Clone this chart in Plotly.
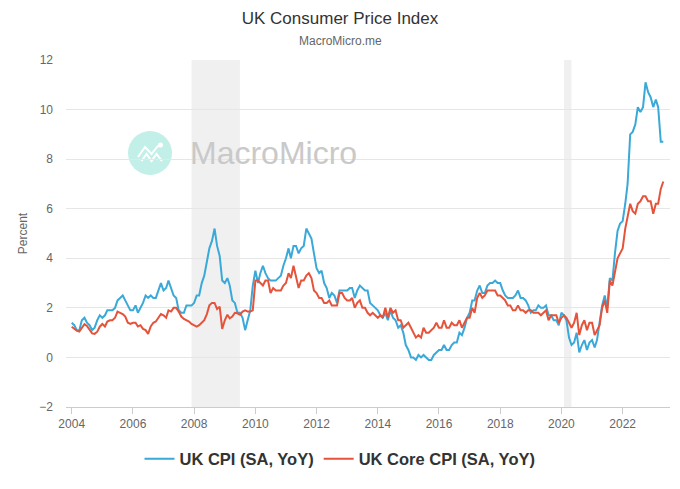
import plotly.graph_objects as go
import pandas as pd

# ---------------- data (monthly, Jan 2004 - May 2023) ----------------
start_month = "2004-01-01"

cpi_2004_2008 = [
    1.4, 1.3, 1.1, 1.1, 1.5, 1.6, 1.4, 1.3, 1.1, 1.2, 1.5, 1.7,
    1.6, 1.7, 1.9, 1.9, 1.9, 2.0, 2.3, 2.4, 2.5, 2.3, 2.1, 1.9,
    1.9, 2.1, 1.8, 2.0, 2.2, 2.5, 2.4, 2.5, 2.4, 2.4, 2.7, 3.0,
    2.7, 2.8, 3.1, 2.8, 2.5, 2.4, 1.9, 1.8, 1.8, 2.1, 2.1, 2.1,
    2.2, 2.5, 2.5, 3.0, 3.3, 3.8, 4.4, 4.7, 5.2, 4.5, 4.1, 3.1,
]
cpi_2009_2013 = [
    3.0, 3.2, 2.9, 2.3, 2.2, 1.8, 1.8, 1.6, 1.1, 1.5, 1.9, 2.9,
    3.5, 3.0, 3.4, 3.7, 3.4, 3.2, 3.1, 3.1, 3.1, 3.2, 3.3, 3.7,
    4.0, 4.4, 4.0, 4.5, 4.5, 4.2, 4.4, 4.5, 5.2, 5.0, 4.8, 4.2,
    3.6, 3.4, 3.5, 3.0, 2.8, 2.4, 2.6, 2.5, 2.2, 2.7, 2.7, 2.7,
    2.7, 2.8, 2.8, 2.4, 2.7, 2.9, 2.8, 2.7, 2.7, 2.2, 2.1, 2.0,
]
cpi_2014_2018 = [
    1.9, 1.7, 1.6, 1.8, 1.5, 1.9, 1.6, 1.5, 1.2, 1.3, 1.0, 0.5,
    0.3, 0.0, 0.0, -0.1, 0.1, 0.0, 0.1, 0.0, -0.1, -0.1, 0.1, 0.2,
    0.3, 0.3, 0.5, 0.3, 0.3, 0.5, 0.6, 0.6, 1.0, 0.9, 1.2, 1.6,
    1.8, 2.3, 2.3, 2.7, 2.9, 2.6, 2.6, 2.9, 3.0, 3.0, 3.1, 3.0,
    3.0, 2.7, 2.5, 2.4, 2.4, 2.4, 2.5, 2.7, 2.4, 2.4, 2.3, 2.1,
]
cpi_2019_2023 = [
    1.8, 1.9, 1.9, 2.1, 2.0, 2.0, 2.1, 1.7, 1.7, 1.5, 1.5, 1.3,
    1.8, 1.7, 1.5, 0.8, 0.5, 0.6, 1.0, 0.2, 0.5, 0.7, 0.3, 0.6,
    0.7, 0.4, 0.7, 1.5, 2.1, 2.5, 2.0, 3.2, 3.1, 4.2, 5.1, 5.4,
    5.5, 6.2, 7.0, 9.0, 9.1, 9.4, 10.1, 9.9, 10.1, 11.1, 10.7, 10.5,
    10.1, 10.4, 10.1, 8.7, 8.7,
]

core_2004_2008 = [
    1.24, 1.16, 1.08, 1.04, 1.17, 1.34, 1.27, 1.13, 0.97, 0.95, 1.04, 1.24,
    1.35, 1.25, 1.45, 1.5, 1.5, 1.6, 1.85, 1.8, 1.75, 1.65, 1.4, 1.35,
    1.4, 1.4, 1.25, 1.3, 1.15, 1.1, 0.95, 1.25, 1.4, 1.45, 1.6, 1.75,
    1.7, 1.6, 1.9, 1.85, 2.0, 2.0, 1.85, 1.65, 1.55, 1.5, 1.45, 1.35,
    1.3, 1.24, 1.3, 1.4, 1.5, 1.75, 2.1, 2.2, 2.2, 1.95, 2.05, 1.15,
]
core_2009_2013 = [
    1.5, 1.72, 1.58, 1.65, 1.8, 1.78, 1.72, 1.85, 1.9, 1.85, 1.85, 1.9,
    3.1, 3.1, 3.0, 2.9, 3.1, 3.1, 2.6, 2.8, 2.7, 2.7, 2.7, 2.9,
    3.0, 3.4, 3.2, 3.7, 3.3, 2.8, 3.1, 3.1, 3.3, 3.4, 3.2, 2.7,
    2.6, 2.4, 2.4, 2.2, 2.2, 2.3, 2.1, 2.1, 2.1, 2.6, 2.6, 2.4,
    2.3, 2.3, 2.4, 2.0, 2.2, 2.3, 2.0, 2.0, 1.8, 1.7, 1.8, 1.7,
]
core_2014_2018 = [
    1.6, 1.7, 1.6, 2.0, 1.6, 2.0, 1.8, 1.9, 1.5, 1.5, 1.2, 1.3,
    1.4, 1.2, 1.0, 0.8, 0.9, 0.8, 1.2, 1.0, 1.0, 1.1, 1.2, 1.4,
    1.2, 1.2, 1.5, 1.2, 1.2, 1.4, 1.3, 1.3, 1.5, 1.2, 1.4, 1.6,
    1.6, 2.0, 1.8, 2.4, 2.6, 2.4, 2.5, 2.7, 2.7, 2.7, 2.7, 2.5,
    2.5, 2.4, 2.3, 2.1, 2.1, 1.9, 1.9, 2.1, 1.9, 1.9, 1.8, 1.9,
]
core_2019_2023 = [
    1.9, 1.8, 1.8, 1.8, 1.7, 1.8, 1.9, 1.5, 1.7, 1.7, 1.7, 1.4,
    1.6, 1.7, 1.6, 1.4, 1.2, 1.4, 1.8, 0.9, 1.3, 1.5, 1.1, 1.4,
    1.4, 0.9, 1.1, 1.3, 2.0, 2.3, 1.8, 3.1, 2.9, 3.4, 4.0, 4.2,
    4.4, 5.2, 5.7, 6.2, 5.9, 5.8, 6.2, 6.3, 6.5, 6.5, 6.3, 6.3,
    5.8, 6.2, 6.2, 6.8, 7.1,
]

cpi = cpi_2004_2008 + cpi_2009_2013 + cpi_2014_2018 + cpi_2019_2023
core = core_2004_2008 + core_2009_2013 + core_2014_2018 + core_2019_2023
dates = pd.date_range(start_month, periods=len(cpi), freq="MS")

recessions = [("2007-12-01", "2009-06-30"), ("2020-02-01", "2020-04-30")]
y_ticks = [-2, 0, 2, 4, 6, 8, 10, 12]

series_names = ["UK CPI (SA, YoY)", "UK Core CPI (SA, YoY)"]
series_colors = ["#3aa9d8", "#e5533b"]

# ---------------- figure ----------------
W, H = 680, 489
ML, MR, MT, MB = 66, 10, 60, 82
PW, PH = W - ML - MR, H - MT - MB


def px(x):
    return (x - ML) / PW


def py(y):
    return (H - MB - y) / PH


FONT = "Liberation Sans, Arial, Helvetica, sans-serif"

fig = go.Figure()
fig.add_trace(go.Scatter(x=dates, y=cpi, mode="lines", name=series_names[0],
                         line=dict(color=series_colors[0], width=2)))
fig.add_trace(go.Scatter(x=dates, y=core, mode="lines", name=series_names[1],
                         line=dict(color=series_colors[1], width=2)))

shapes = []
for a, b in recessions:
    shapes.append(dict(type="rect", xref="x", yref="paper", x0=a, x1=b, y0=0, y1=1,
                       fillcolor="#f0f0f0", line=dict(width=0), layer="below"))

# watermark logo
shapes.append(dict(type="circle", xref="paper", yref="paper",
                   x0=px(128), x1=px(172), y0=py(175), y1=py(131),
                   fillcolor="#c2f0e8", line=dict(width=0), layer="below"))


def path(points):
    return "M " + " L ".join(f"{px(a):.4f},{py(b):.4f}" for a, b in points)


shapes.append(dict(type="path", xref="paper", yref="paper",
                   path=path([(138, 157), (145, 147), (151.5, 154), (157, 147), (160, 145)]),
                   line=dict(color="white", width=2), layer="below"))
shapes.append(dict(type="path", xref="paper", yref="paper",
                   path=path([(141.5, 161), (146.5, 154), (151.5, 161), (156.5, 154), (162, 161)]),
                   line=dict(color="white", width=2), layer="below"))
shapes.append(dict(type="circle", xref="paper", yref="paper",
                   x0=px(158), x1=px(163), y0=py(147.5), y1=py(142.5),
                   fillcolor="white", line=dict(width=0), layer="below"))

annotations = [
    dict(text="MacroMicro.me", xref="paper", yref="paper", x=px(340),
         y=py(41), showarrow=False, font=dict(family=FONT, size=12, color="#666666"),
         xanchor="center", yanchor="middle"),
    dict(text="MacroMicro", xref="paper", yref="paper", x=px(273.5), y=py(153),
         showarrow=False, font=dict(family=FONT, size=32, color="#c9c9c9"),
         xanchor="center", yanchor="middle"),
]

fig.update_layout(
    width=W, height=H,
    margin=dict(l=ML, r=MR, t=MT, b=MB),
    paper_bgcolor="white", plot_bgcolor="white",
    font=dict(family=FONT, color="#666666", size=12),
    title=dict(text="UK Consumer Price Index", x=0.5, xref="container", xanchor="center",
               y=1 - 18 / H, yref="container", yanchor="middle",
               font=dict(family=FONT, size=17, color="#333333")),
    showlegend=True,
    legend=dict(orientation="h", x=px(340), xanchor="center", y=py(459), yanchor="middle",
                font=dict(family=FONT, size=16.5, color="#333333", weight="bold"),
                itemwidth=30, tracegroupgap=0),
    shapes=shapes,
    annotations=annotations,
    xaxis=dict(type="date", range=["2003-10-25", "2023-07-20"],
               tick0="2004-01-01", dtick="M24", tickformat="%Y",
               showgrid=False, zeroline=False,
               showline=True, linecolor="#cccccc", linewidth=1,
               ticks="outside", ticklen=6, tickcolor="#cccccc",
               tickfont=dict(size=12, color="#666666")),
    yaxis=dict(range=[-2, 12], tickvals=y_ticks, showgrid=True, gridcolor="#e6e6e6",
               gridwidth=1, zeroline=False, showline=False, ticks="",
               ticklabelstandoff=12,
               tickfont=dict(size=12, color="#666666"),
               title=dict(text="Percent", font=dict(size=12, color="#666666"), standoff=9)),
)

fig.write_html("out.html",
               config={"displayModeBar": False},
               post_script="document.body.style.margin='0px';document.body.style.padding='0px';")
